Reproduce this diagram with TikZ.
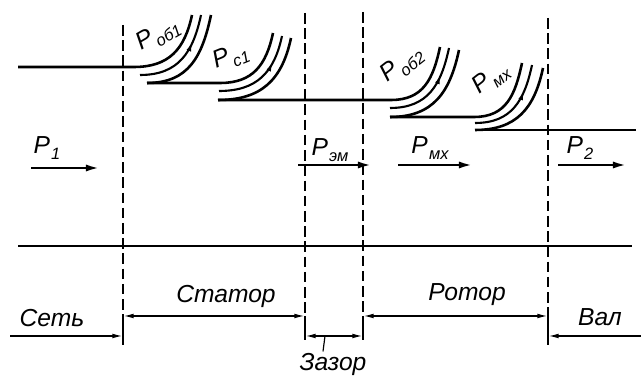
\documentclass[tikz,border=0pt]{standalone}
\usepackage{fontspec}
\setmainfont{Liberation Sans}
\usetikzlibrary{arrows.meta, decorations.markings}

\newcommand{\pw}[1]{P\kern1pt\raisebox{-0.5ex}{\fontsize{14}{14}\selectfont #1}}

\begin{document}
\begin{tikzpicture}[
    x=0.03cm, y=0.03cm,
    every node/.style={font=\fontsize{21}{24}\selectfont\itshape, inner sep=1pt},
    flow/.style={line width=2.2pt},
    loss/.style={line width=1.8pt},
    curl/.style={out=0, in=258, looseness=1.15},
    midarrow/.style={loss, postaction={decorate},
      decoration={markings, mark=at position 0.7 with {\arrow{Latex[length=8pt,width=4pt]}}}},
    bound/.style={line width=1.4pt, dash pattern=on 9pt off 4pt},
    tick/.style={line width=1.4pt},
    dim/.style={line width=1.3pt, {Latex[length=9pt,width=4pt]}-{Latex[length=9pt,width=4pt]}},
    dimone/.style={line width=1.3pt, -{Latex[length=9pt,width=4pt]}},
    power/.style={line width=2.2pt, -{Latex[length=12pt,width=6pt]}}
  ]
    \useasboundingbox (0,0) rectangle (641,376);

    % Boundaries
    \foreach \x/\top/\bot in {123/351/31, 305/363/36, 363/364/36, 548/358/31} {
      \draw[bound] (\x,\top) -- (\x,60);
      \draw[tick] (\x,60) -- (\x,\bot);
    }

    % Power flow
    \draw[flow] (18,309) -- (134,309) to[curl] (192,361);
    \draw[flow] (147,293) to[curl] (211,361);
    \draw[flow] (147,293) -- (220,293) to[curl] (273,343);
    \draw[flow] (218,276) to[curl] (291,338);
    \draw[flow] (218,276) -- (391,276) to[curl] (440,329);
    \draw[flow] (390,259) to[curl] (459,326);
    \draw[flow] (390,259) -- (474,259) to[curl] (522,313);
    \draw[flow] (475,246) to[curl] (543,308);
    \draw[flow] (475,246) -- (636,246);
    \draw[flow] (18,130) -- (632,130);

    % Losses
    \draw[midarrow] (140,301) to[curl] (201,361);
    \draw[midarrow] (219,285) to[curl] (282,340);
    \draw[midarrow] (390,268) to[curl] (449,328);
    \draw[midarrow] (475,253) to[curl] (532,311);

    \node[rotate=30] (pob1) at (158,341) {\pw{об1}};
    \node[rotate=22] (pc1) at (231,319) {\pw{с1}};
    \node[rotate=38] (pob2) at (402,311) {\pw{об2}};
    \node[rotate=38] (pmx) at (491,297) {\pw{мх}};

    % Powers
    \node (pin) at (47,228) {\pw{1}};
    \node (pem) at (330,226) {\pw{эм}};
    \node (pmech) at (430,228) {\pw{мх}};
    \node (pout) at (580,228) {\pw{2}};
    \draw[power] (31,208) -- (100,208);
    \draw[power] (298,211) -- (372,211);
    \draw[power] (398,211) -- (473,211);
    \draw[power] (558,211) -- (627,211);

    % Zones
    \coordinate (s0) at (123,60);
    \coordinate (s1) at (305,60);
    \coordinate (r0) at (363,60);
    \coordinate (r1) at (548,60);
    \node (lnet) at (52,58) {Сеть};
    \node (lstat) at (226,80) {Статор};
    \node (lrot) at (467,81) {Ротор};
    \node (lshaft) at (600,59) {Вал};
    \node (lgap) at (333,12) {Зазор};
    \draw[dimone] (10,40) -- (123,40);
    \draw[dim] (s0) -- (s1);
    \draw[dim] (305,40) -- (363,40);
    \draw[dim] (r0) -- (r1);
    \draw[dimone] (641,40) -- (548,40);
    \draw[line width=1pt] (lgap.north) ++(-10,0) -- (325,40);
  \end{tikzpicture}
\end{document}
